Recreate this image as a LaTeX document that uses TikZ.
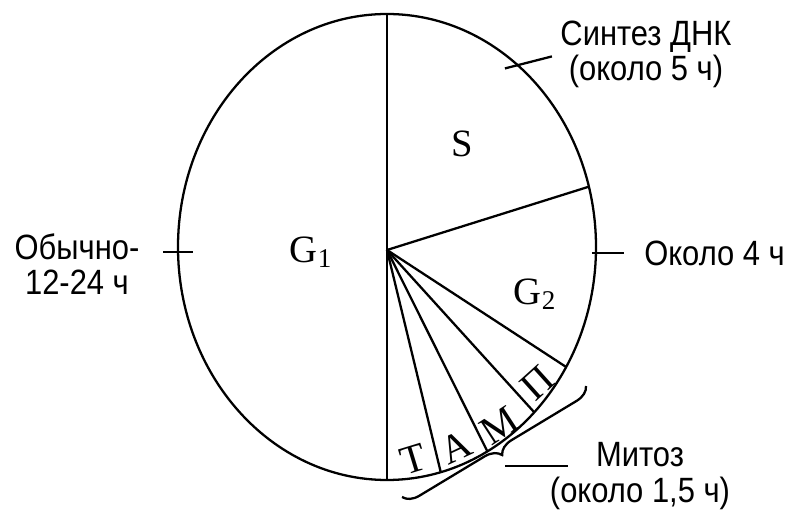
\documentclass[tikz,border=0pt]{standalone}
\usepackage{fontspec}
\newfontfamily\lblfont[FakeStretch=0.88]{Liberation Sans}
\newfontfamily\phfont{Liberation Serif}
\usepackage{tikz}
\usetikzlibrary{positioning,calc,decorations.pathreplacing}

\begin{document}
\begin{tikzpicture}[
  x=0.02cm, y=-0.02cm,
  cyc/.style={line width=1.3pt},
  ray/.style={line width=1.3pt},
  tick/.style={line width=1.3pt},
  lbl/.style={font=\lblfont\fontsize{20}{20}\selectfont, align=center, inner sep=0pt},
  phase/.style={font=\phfont\fontsize{22}{22}\selectfont, inner sep=0pt},
  sub/.style={font=\phfont\fontsize{23}{23}\selectfont, inner sep=0pt},
  brc/.style={line width=1.3pt, decorate, decoration={brace, amplitude=9pt}}
]
\useasboundingbox (0,0) rectangle (798,519);

%% Cell cycle ellipse and phase borders
\coordinate (o) at (387,247);
\coordinate (hub) at (387,250);
\draw[cyc] (o) ellipse [x radius=209, y radius=233];

\coordinate (ptop) at ($(o)+(-90:209 and 233)$);
\coordinate (pbot) at ($(o)+(90:209 and 233)$);
\coordinate (pS)  at ($(o)+(-15:209 and 233)$);
\coordinate (pP)  at ($(o)+(31:209 and 233)$);
\coordinate (pM)  at ($(o)+(45.2:209 and 233)$);
\coordinate (pA)  at ($(o)+(61.3:209 and 233)$);
\coordinate (pT)  at ($(o)+(75.1:209 and 233)$);

\draw[ray] (ptop) -- (pbot);
\draw[ray] (hub) -- (pS);
\draw[ray] (hub) -- (pP);
\draw[ray] (hub) -- (pM);
\draw[ray] (hub) -- (pA);
\draw[ray] (hub) -- (pT);

%% Phase names
\node[phase] (lS)  at (462,144) {S};
\node[phase] (lG1) at (311,252) {G\textsubscript{1}};
\node[phase] (lG2) at (535,294) {G\textsubscript{2}};
\node[sub, rotate=17] (lT) at (413,459) {Т};
\node[sub, rotate=25] (lA) at (456,447) {А};
\node[sub, rotate=33] (lM) at (499,426) {М};
\node[sub, rotate=42] (lP) at (537,383) {П};

%% Durations
\coordinate (tG1) at ($(o)+(178.8:209 and 233)$);
\draw[tick] ($(tG1)+(-15,0)$) -- ($(tG1)+(15,0)$);
\node[lbl] (nG1) at (77,264) {Обычно-\\12-24 ч};

\coordinate (tS) at ($(o)+(-51.2:209 and 233)$);
\draw[tick] ($(tS)+(-13,3)$) -- ($(tS)+(34,-9)$);
\node[lbl] (nS) at (646,54) {Синтез ДНК\\(около 5 ч)};

\coordinate (tG2) at ($(o)+(1.5:209 and 233)$);
\draw[tick] ($(tG2)+(-4,0)$) -- ++(32,0) coordinate (tG2e);
\node[lbl, right=0.4cm of tG2e] (nG2) {Около 4 ч};

%% Mitosis brace
\coordinate (bu) at (586,386);
\coordinate (bl) at (402,497);
\draw[brc] (bu) -- (bl);
\coordinate (mt) at (505,466);
\coordinate (me) at (568,466);
\draw[tick] (mt) -- (me);
\node[lbl] (nM) at (640,476) {Митоз\\(около 1,5 ч)};
\end{tikzpicture}
\end{document}
